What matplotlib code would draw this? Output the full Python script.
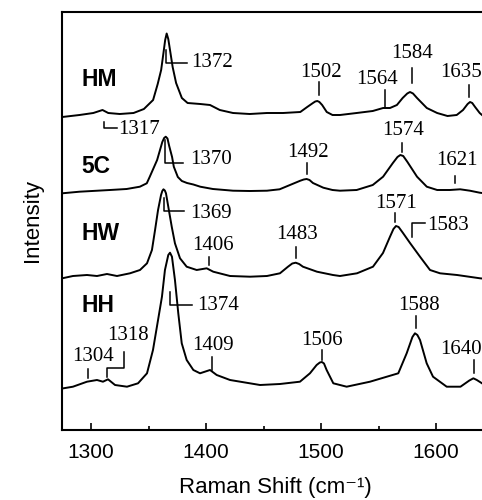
import matplotlib
matplotlib.use("Agg")
import matplotlib.pyplot as plt

# ---- data ----
hm_x = [1275, 1290, 1302, 1310, 1315, 1325, 1337, 1346, 1354, 1358, 1361, 1363, 1364.5, 1365.8, 1367.2, 1368.7, 1371, 1374,
        1379, 1384, 1395, 1403.5, 1412, 1423.5, 1438, 1453, 1467, 1482, 1488, 1493, 1495, 1496.8, 1498.6, 1501, 1505, 1510,
        1516.5, 1531, 1545, 1554, 1560, 1566, 1571, 1575, 1577.4, 1580, 1583.5, 1592, 1601, 1610, 1618, 1623.5, 1627.5,
        1629.6, 1631.5, 1634, 1638, 1640]
hm_y = [313, 315, 317, 320, 317, 316, 317, 321, 330, 346, 360, 377, 390, 396.5, 391, 380, 363, 347,
        332, 327, 326, 325, 320, 317, 316, 317, 317, 318, 323, 327, 328.5, 329, 328, 325, 318, 315,
        315, 317, 319, 322, 322, 325, 332, 336.5, 338, 336.5, 332, 322, 317, 314, 315, 320, 326,
        328, 327, 323, 317, 315]

c5_x = [1275, 1290, 1316.5, 1331, 1342.5, 1348.5, 1351, 1357.5, 1360, 1362, 1363.6, 1365, 1366.5, 1368, 1370.5, 1372,
        1375.5, 1379, 1383.5, 1389, 1395, 1406, 1423.5, 1438, 1453, 1464, 1473, 1482, 1485, 1487.5, 1490, 1493, 1502, 1510,
        1516.5, 1531, 1545, 1554, 1562.5, 1566.5, 1569, 1571.5, 1575, 1583.5, 1592, 1601, 1612, 1621, 1629.5, 1638, 1640]
c5_y = [236.7, 238.3, 240, 241, 243.3, 246.7, 253, 270, 280, 288, 292, 293.3, 291.5, 284, 273, 263.3,
        253, 249, 247, 245.5, 243.3, 241, 239.3, 239, 239.3, 240.7, 245, 249.3, 250.5, 251, 250, 247, 242.3, 240,
        239.3, 240, 245, 253.3, 267, 273, 275, 274, 268.3, 253.3, 243.3, 240, 240, 240.7, 239.3, 237.3, 237]

hw_x = [1275, 1284.3, 1296.5, 1305.2, 1313.9, 1322.6, 1333.9, 1342.6, 1348.7, 1353, 1355.7, 1358.3, 1360.9, 1362, 1363,
        1364.2, 1365.2, 1367.2, 1370.2, 1373, 1377.4, 1383.2, 1391.9, 1400.6, 1406.3, 1420.9, 1438.3, 1453, 1464.3, 1471.3,
        1475, 1478, 1481, 1484.3, 1496.5, 1510.4, 1516.5, 1531.3, 1545.2, 1553.9, 1560, 1563, 1565.2, 1567.5, 1571.3, 1577.4,
        1586.1, 1594.8, 1603.5, 1618.3, 1638.3, 1640]
hw_y = [151.7, 154, 155, 154, 156, 154, 156.7, 160, 166.7, 180, 200, 220, 235, 239, 240.7,
        239.5, 236.7, 223.3, 203.3, 186.7, 171.7, 163.3, 160, 161.7, 158.3, 154, 153.3, 154, 156.7, 163.3,
        166.5, 167.3, 166, 163.3, 158.3, 155, 154, 156.7, 163.3, 177, 193.3, 201, 204, 203, 197, 187,
        173.3, 160, 156.7, 155, 151.7, 151.5]

hh_x = [1275, 1284.3, 1296.5, 1305.2, 1310.4, 1314.8, 1320.9, 1331.3, 1340.9, 1348.7, 1353.9, 1358.3, 1361.7, 1364.3,
        1367.2, 1368.7, 1370.4, 1373, 1375.9, 1378.9, 1383.2, 1389, 1394.8, 1403.5, 1409.3, 1420.9, 1447, 1464.3, 1481.7,
        1490.4, 1496.2, 1499, 1500.8, 1502.6, 1504.9, 1510.7, 1522.3, 1542.6, 1567.2, 1574.5, 1579.5, 1581.7, 1583.8, 1586.1,
        1591.9, 1597.4, 1609.3, 1621.3, 1629, 1632.5, 1635.5, 1640]
hh_y = [41.5, 43.3, 48.3, 50, 48.3, 50.7, 45, 43.3, 46.7, 56.7, 80, 110, 133.3, 160,
        175, 177.3, 173.3, 150, 116.7, 86.7, 70, 60, 56.7, 60, 55, 50, 45, 46, 48.3,
        56.7, 65, 67.5, 68, 66.5, 60, 46.7, 43.3, 48.3, 56.7, 76.7, 93, 96.7, 95, 90,
        66.7, 53.3, 43.3, 43.3, 49.5, 51.7, 50, 46.7]

sample_names = ["HM", "5C", "HW", "HH"]
sample_label_y = [350, 263.3, 196.7, 125]
traces = [(hm_x, hm_y), (c5_x, c5_y), (hw_x, hw_y), (hh_x, hh_y)]

x_ticks = [1300, 1400, 1500, 1600]
x_minor = [1350, 1450, 1550]

# peak annotations: (text, text_x, text_y, ha, marker path xs, marker path ys)
peak_labels = [
    ("1372", 1387.5, 367.5, "left", [1365.2, 1365.2, 1383.2], [380, 366.7, 366.7]),
    ("1317", 1323.7, 301.0, "left", [1311.6, 1311.6, 1322.3], [308.3, 301.7, 301.7]),
    ("1502", 1499.8, 357.5, "center", [1498.5, 1498.5], [348, 335]),
    ("1564", 1548.4, 351.0, "center", [1555.7, 1555.7], [340, 323.3]),
    ("1584", 1579.6, 376.7, "center", [1578.9, 1578.9], [361.7, 346.7]),
    ("1635", 1603.5, 357.5, "left", [1629.0, 1629.0], [345, 332.7]),
    ("1370", 1386.1, 271.0, "left", [1364.3, 1364.3, 1380.3], [290, 267, 267]),
    ("1492", 1489.0, 277.5, "center", [1488.1, 1488.1], [266.7, 256]),
    ("1574", 1571.6, 299.2, "center", [1570.2, 1570.2], [287.3, 278.3]),
    ("1621", 1618.0, 269.2, "center", [1616.5, 1616.5], [254, 246.7]),
    ("1369", 1386.1, 216.0, "left", [1363.7, 1363.7, 1381.0], [231.7, 219.3, 219.3]),
    ("1406", 1406.3, 184.2, "center", [1402.9, 1402.9], [172.7, 165]),
    ("1483", 1478.8, 195.8, "center", [1478.3, 1478.3], [183.3, 171.7]),
    ("1571", 1565.0, 226.0, "center", [1564.3, 1564.3], [216.7, 208.3]),
    ("1583", 1591.9, 204.2, "left", [1578.8, 1578.8, 1590.4], [193.3, 206.7, 206.7]),
    ("1374", 1391.9, 124.2, "left", [1368.7, 1368.7, 1387.5], [138.3, 125, 125]),
    ("1318", 1332.4, 95.0, "center", [1313.6, 1313.6, 1328.7, 1328.7], [53.3, 61.7, 61.7, 78.3]),
    ("1304", 1302.0, 73.3, "center", [1297.7, 1297.7], [60.7, 51.7]),
    ("1409", 1406.3, 84.2, "center", [1404.9, 1404.9], [73.3, 60]),
    ("1506", 1500.5, 89.2, "center", [1500.5, 1500.5], [80, 70]),
    ("1588", 1585.2, 124.2, "center", [1582.3, 1582.3], [114, 101.7]),
    ("1640", 1640.0, 80.8, "right", [1633.0, 1633.0], [70, 56.7]),
]

# ---- figure ----
fig = plt.figure(figsize=(4.82, 5.0), dpi=100)
ax = fig.add_axes([62.25 / 482, 70 / 500, 425.5 / 482, 418 / 500])
ax.set_xlim(1275, 1645)
ax.set_ylim(0, 418)

for xs, ys in traces:
    ax.plot(xs, ys, color="black", lw=1.4, solid_joinstyle="round")

for name, ly in zip(sample_names, sample_label_y):
    ax.text(1292, ly, name, fontsize=16.5, fontweight="bold", family="Liberation Sans",
            ha="left", va="center")

for txt, tx, ty, ha, mx, my in peak_labels:
    ax.plot(mx, my, color="black", lw=1.1)
    ax.text(tx, ty, txt, fontsize=15, family="Liberation Serif", ha=ha, va="center")

ax.set_xticks(x_ticks)
ax.set_xticks(x_minor, minor=True)
ax.set_yticks([])
ax.tick_params(axis="x", which="major", direction="in", length=5, width=1.2, labelsize=15, pad=9)
ax.tick_params(axis="x", which="minor", direction="in", length=3, width=1.2)
for lab in ax.get_xticklabels():
    lab.set_family("Liberation Sans")
for s in ax.spines.values():
    s.set_linewidth(1.5)
ax.spines["right"].set_visible(False)

ax.set_xlabel("Raman Shift (cm\u207b\u00b9)", fontsize=16, family=["Liberation Sans", "DejaVu Sans"], labelpad=11)
ax.set_ylabel("Intensity", fontsize=16, family="Liberation Sans", labelpad=14)

fig.savefig("out.png", dpi=100)
